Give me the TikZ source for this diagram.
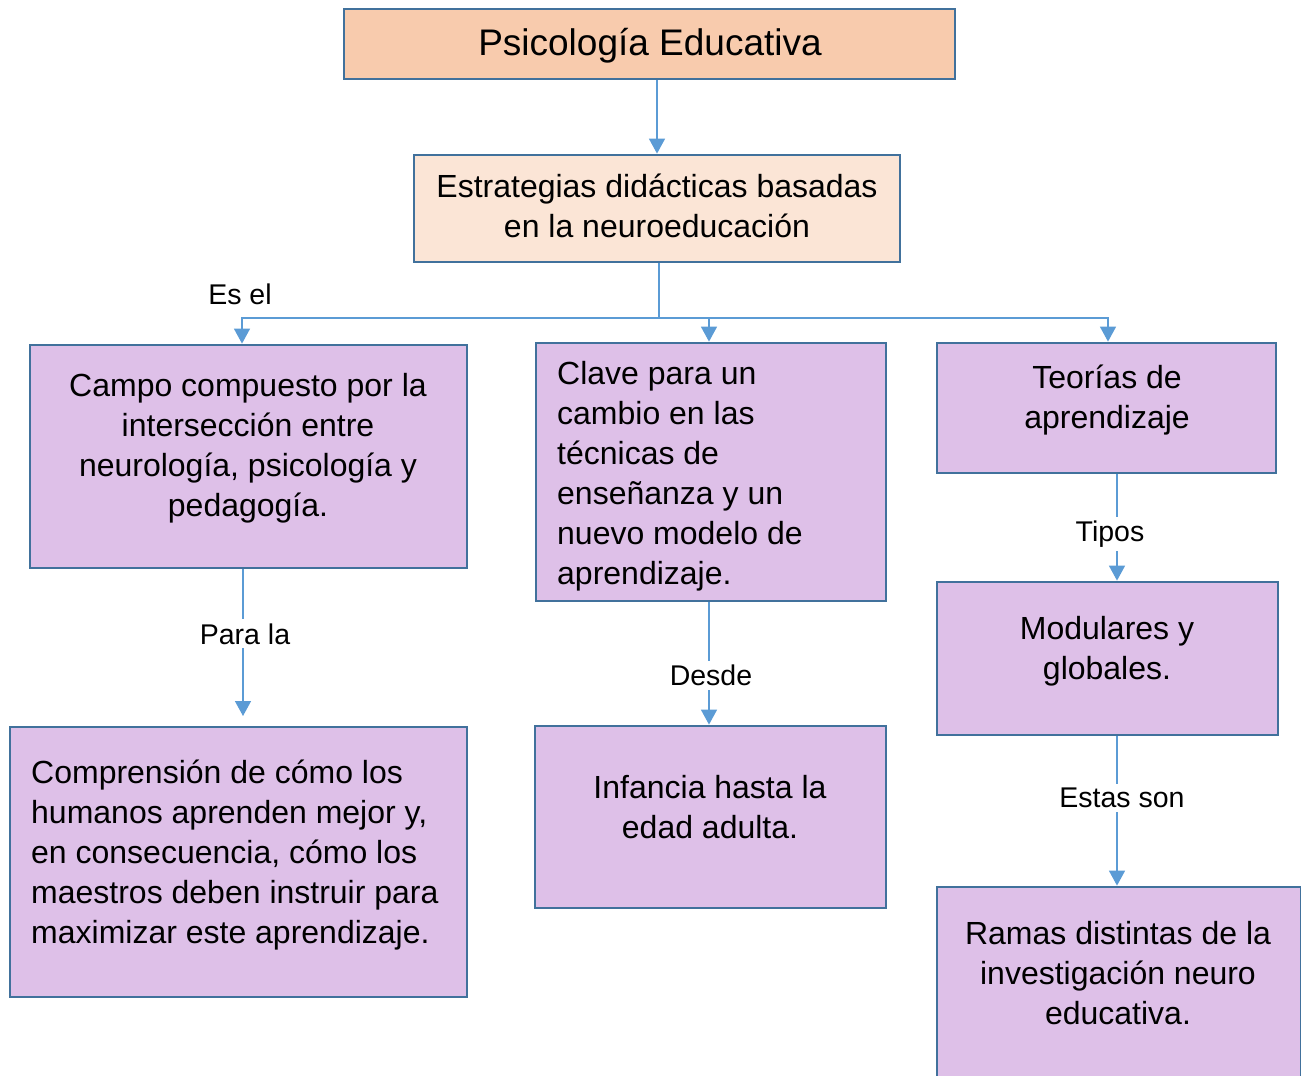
\documentclass[tikz,border=0pt]{standalone}
\usepackage{fontspec}
\setmainfont{Liberation Sans}
\usetikzlibrary{arrows.meta}
\definecolor{borde}{HTML}{41719C}
\definecolor{flecha}{HTML}{5B9BD5}
\definecolor{salmon}{HTML}{F8CBAD}
\definecolor{crema}{HTML}{FBE5D6}
\definecolor{lila}{HTML}{DEC0E8}

\begin{document}
\begin{tikzpicture}[x=1pt, y=-1pt,
    caja/.style={draw=borde, line width=2.8pt, fill=lila, inner sep=0pt},
    texto/.style={font=\fontsize{32}{40}\selectfont, align=center, inner sep=0pt},
    etiq/.style={font=\fontsize{28.5}{34}\selectfont, fill=white, inner sep=4pt},
    linea/.style={draw=flecha, line width=1.5pt},
    flechita/.style={linea, -{Triangle[width=16pt,length=15pt]}}]
                    \useasboundingbox (0,0) rectangle (1301,1076);
                    \node[caja, fill=salmon, minimum width=611pt, minimum height=70pt] (titulo) at (649.5,44) {};
                    \node[texto, font=\fontsize{37}{44}\selectfont] (titulo-t) at (650,46) {Psicología Educativa};
                    \node[caja, fill=crema, minimum width=486pt, minimum height=107pt] (estrat) at (657,208.5) {};
                    \node[texto] (estrat-t) at (657,206) {Estrategias didácticas basadas\\en la neuroeducación};
                    \node[caja, minimum width=437pt, minimum height=223pt] (campo) at (248.5,456.5) {};
                    \node[texto] (campo-t) at (248,448) {Campo compuesto por la\\intersección entre\\neurología, psicología y\\pedagogía.};
                    \node[caja, minimum width=350pt, minimum height=258pt] (clave) at (711,472) {};
                    \node[texto, align=left, anchor=west] (clave-t) at (557,476) {Clave para un\\cambio en las\\técnicas de\\enseñanza y un\\nuevo modelo de\\aprendizaje.};
                    \node[caja, minimum width=339pt, minimum height=130pt] (teorias) at (1106.5,408) {};
                    \node[texto] (teorias-t) at (1107,400) {Teorías de\\aprendizaje};
                    \node[caja, minimum width=457pt, minimum height=270pt] (compr) at (238.5,862) {};
                    \node[texto, align=left, anchor=west] (compr-t) at (31,855) {Comprensión de cómo los\\humanos aprenden mejor y,\\en consecuencia, cómo los\\maestros deben instruir para\\maximizar este aprendizaje.};
                    \node[caja, minimum width=351pt, minimum height=182pt] (infancia) at (710.5,817) {};
                    \node[texto] (infancia-t) at (710,807) {Infancia hasta la\\edad adulta.};
                    \node[caja, minimum width=341pt, minimum height=153pt] (modul) at (1107.5,658.5) {};
                    \node[texto] (modul-t) at (1107,651) {Modulares y\\globales.};
                    \node[caja, minimum width=364pt, minimum height=230pt] (ramas) at (1119,1002) {};
                    \node[texto] (ramas-t) at (1118,973) {Ramas distintas de la\\investigación neuro\\educativa.};
                    \coordinate (rama) at (659,318);
                    \coordinate (para) at (243,716);
                    \draw[flechita] (titulo.south -| estrat.north) -- (estrat.north);
                    \draw[linea] (estrat.south -| rama) -- (rama);
                    \draw[flechita] (rama) -| ([xshift=-6.5pt]campo.north);
                    \draw[flechita] (rama) -| ([xshift=-2pt]clave.north);
                    \draw[flechita] (rama) -| ([xshift=1.5pt]teorias.north);
                    \node[etiq, fill=none] (esel) at (240,294) {Es el};
                    \draw[flechita] (para |- campo.south) -- node[etiq, pos=0.44, xshift=2pt] (para-t) {Para la} (para);
                    \draw[flechita] ([xshift=-2pt]clave.south) -- node[etiq, pos=0.6, xshift=2pt] (desde) {Desde} ([xshift=-2pt]clave.south |- infancia.north);
                    \draw[flechita] ([xshift=10.5pt]teorias.south) -- node[etiq, pos=0.56, xshift=-7pt] (tipos) {Tipos} ([xshift=10.5pt]teorias.south |- modul.north);
                    \draw[flechita] ([xshift=9.5pt]modul.south) -- node[etiq, pos=0.41, xshift=5pt] (estas) {Estas son} ([xshift=9.5pt]modul.south |- ramas.north);
                \end{tikzpicture}
\end{document}
